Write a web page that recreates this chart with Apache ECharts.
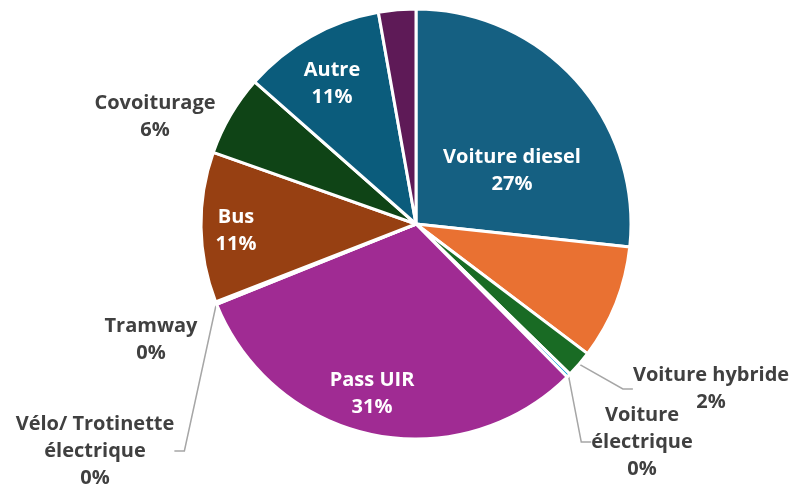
<!DOCTYPE html>
<html><head><meta charset="utf-8">
<script src="https://cdn.jsdelivr.net/npm/echarts@6/dist/echarts.min.js"></script>
<style>html,body{margin:0;padding:0;background:#fff}#c{width:799px;height:488px}</style>
</head><body><div id="c"></div>
<script>
var categories = ['Voiture diesel','Voiture essence','Voiture hybride','Voiture électrique','Pass UIR','Vélo/ Trotinette électrique','Tramway','Bus','Covoiturage','Autre','Moto'];
var labelTexts = ['Voiture diesel','','Voiture hybride','Voiture\nélectrique','Pass UIR','Vélo/ Trotinette\nélectrique','Tramway','Bus','Covoiturage','Autre',''];
var values = [26.7, 8.6, 2.0, 0.3, 31.3, 0.1, 0.1, 11.3, 6.1, 10.7, 2.8];
var colors = ['#156082','#E97132','#196B24','#0F9ED5','#A02B93','#4EA72E','#5A8FC2','#974012','#0F4416','#0B5C7C','#5E1A57'];
var insideIdx = [0,4,7,9];
var hiddenIdx = [1,10];
var labelPos = {0:[512,171],2:[711,389],3:[642,442],4:[372,394],5:[95,451],6:[151,340],7:[236,231],8:[155,117],9:[332,84]};

var data = categories.map(function(n,i){
  var inside = insideIdx.indexOf(i) >= 0;
  var hidden = hiddenIdx.indexOf(i) >= 0;
  return {
    name: n, value: values[i],
    itemStyle: {color: colors[i]},
    label: {show: !hidden, color: inside ? '#ffffff' : '#404040'},
    labelLine: {show: !inside && !hidden && i !== 6 && i !== 8}
  };
});

var chart = echarts.init(document.getElementById('c'), null, {renderer:'canvas'});
chart.setOption({
  animation: false,
  series: [{
    type: 'pie',
    center: [416, 224],
    radius: [0, 215],
    startAngle: 90,
    clockwise: true,
    avoidLabelOverlap: false,
    itemStyle: {borderColor: '#ffffff', borderWidth: 3},
    label: {
      show: true,
      position: 'outside',
      fontFamily: 'Open Sans',
      fontWeight: 'bold',
      fontSize: 20,
      lineHeight: 27,
      align: 'center',
      formatter: function(p){ return labelTexts[p.dataIndex] + '\n' + Math.round(p.value) + '%'; }
    },
    labelLine: {show: true, length: 15, length2: 10, lineStyle: {color: '#A6A6A6', width: 1.5}},
    labelLayout: function(p){
      var pos = labelPos[p.dataIndex];
      if (!pos) return {};
      return {x: pos[0], y: pos[1], align: 'center', verticalAlign: 'middle'};
    },
    data: data
  }]
});
</script></body></html>
